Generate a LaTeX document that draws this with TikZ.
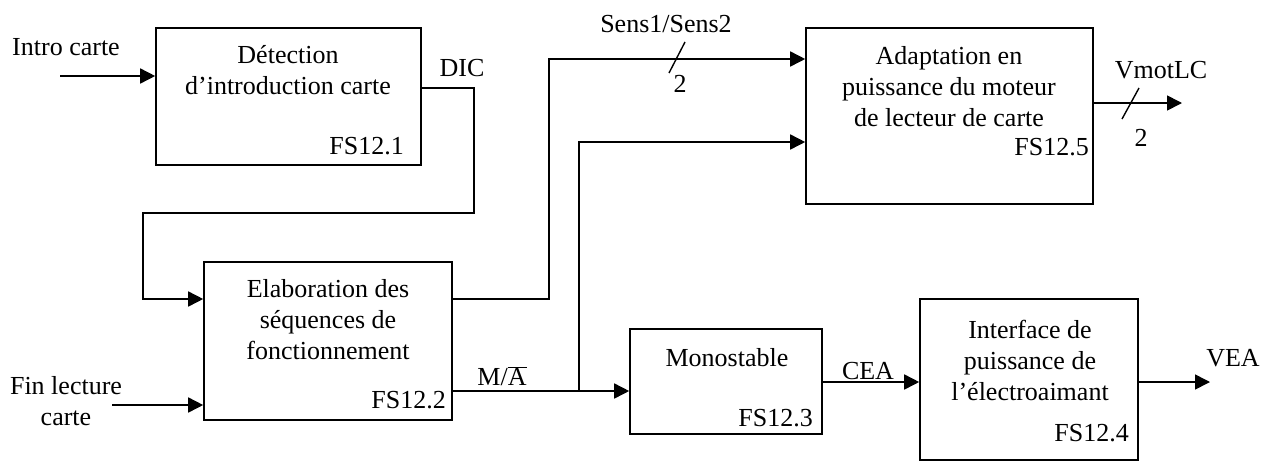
\documentclass[tikz,border=0pt]{standalone}
\usepackage{fontspec}
\setmainfont{Liberation Serif}
\usetikzlibrary{arrows.meta}
\begin{document}
\begin{tikzpicture}[x=1pt,y=-1pt,
  blk/.style={draw,line width=1.6pt,rectangle,inner sep=0pt},
  txt/.style={inner sep=0pt,align=center,font=\fontsize{26}{31}\selectfont},
  wire/.style={line width=1.6pt},
  arr/.style={line width=1.6pt,-{Triangle[length=15pt,width=15pt]}},
  tick/.style={line width=1.4pt}]
\useasboundingbox (0,0) rectangle (1266,464);
% boxes
\node[blk,minimum width=265pt,minimum height=137pt] (b1) at (288.5,96.5) {};
\node[blk,minimum width=248pt,minimum height=158pt] (b2) at (328,341) {};
\node[blk,minimum width=287pt,minimum height=176pt] (b5) at (949.5,116) {};
\node[blk,minimum width=192pt,minimum height=105pt] (b3) at (726,381.5) {};
\node[blk,minimum width=218pt,minimum height=161pt] (b4) at (1029,379.5) {};
% box texts
\node[txt] (t1) at (288,70) {Détection\\d’introduction carte};
\node[txt,anchor=east] (f1) at (404,146) {FS12.1};
\node[txt] (t2) at (328,320) {Elaboration des\\séquences de\\fonctionnement};
\node[txt,anchor=east] (f2) at (446,400) {FS12.2};
\node[txt] (t5) at (949,87) {Adaptation en\\puissance du moteur\\de lecteur de carte};
\node[txt,anchor=east] (f5) at (1089,147) {FS12.5};
\node[txt] (t3) at (727,358) {Monostable};
\node[txt,anchor=east] (f3) at (813,418) {FS12.3};
\node[txt] (t4) at (1030,360) {Interface de\\puissance de\\l’électroaimant};
\node[txt,anchor=east] (f4) at (1129,433) {FS12.4};
% external labels
\node[txt] (intro) at (66,47) {Intro carte};
\node[txt] (fin) at (66,401) {Fin lecture\\carte};
\node[txt] (dic) at (462,68) {DIC};
\node[txt] (sens) at (666,24) {Sens1/Sens2};
\node[txt] (two1) at (680,84) {2};
\node[txt] (ma) at (502,376) {M/$\overline{\mbox{A}}$};
\node[txt] (vmot) at (1161,70) {VmotLC};
\node[txt] (two2) at (1141,138) {2};
\node[txt] (cea) at (868,371) {CEA};
\node[txt] (vea) at (1233,358) {VEA};
% coordinates
\coordinate (introS) at (60,76);
\coordinate (finS) at (112,405);
\coordinate (vmotE) at (1182,103);
\coordinate (veaE) at (1210,382);
% connectors
\draw[arr] (introS) -- (introS -| b1.west);
\draw[arr] (finS) -- (finS -| b2.west);
\draw[arr] (b1.east |- 0,88) -- (474,88) -- (474,213) -- (143,213) -- (143,299) -- (b2.west |- 0,299);
\draw[arr] (b2.east |- 0,299) -- (549,299) -- (549,59) -- (b5.west |- 0,59);
\draw[arr] (b2.east |- 0,391) -- (b3.west |- 0,391);
\draw[arr] (579,391) -- (579,142) -- (b5.west |- 0,142);
\draw[arr] (b5.east |- vmotE) -- (vmotE);
\draw[arr] (b3.east |- 0,382) -- (b4.west |- 0,382);
\draw[arr] (b4.east |- veaE) -- (veaE);
% bus ticks
\draw[tick] (669,73) -- (685,42);
\draw[tick] (1122,119) -- (1139,88);
\end{tikzpicture}
\end{document}
